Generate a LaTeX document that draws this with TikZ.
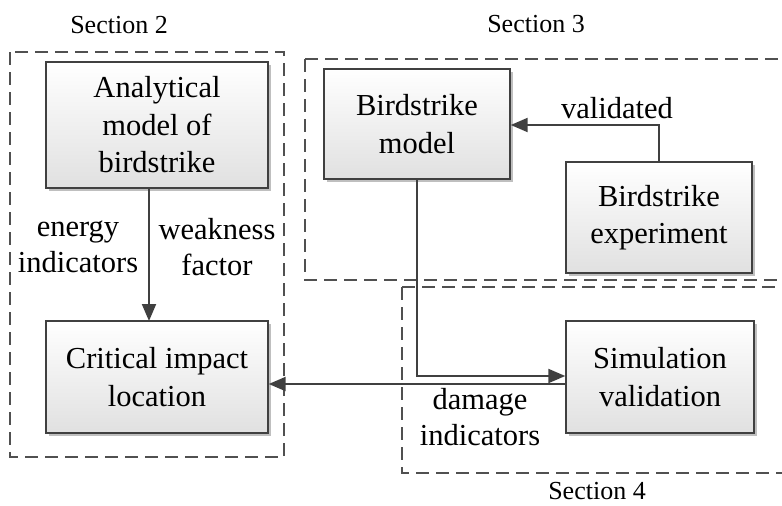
\documentclass[tikz,border=0pt]{standalone}
\usepackage{fontspec}
\setmainfont{Liberation Serif}
\usetikzlibrary{arrows.meta,shadows}
\definecolor{edge}{HTML}{404040}
\definecolor{dashc}{HTML}{505050}
\tikzset{
  box/.style={draw=edge, line width=1.4pt, top color=white, bottom color=black!12,
    minimum width=#1, inner sep=0pt, align=center,
    font=\fontsize{30.5}{37.5}\selectfont,
    drop shadow={shadow xshift=2.5pt, shadow yshift=-2.5pt, opacity=0.25, fill=black}},
  sect/.style={draw=dashc, line width=1.3pt, dash pattern=on 13pt off 7pt},
  conn/.style={draw=edge, line width=2pt, -{Triangle[length=17pt,width=14pt]}},
  lbl/.style={align=center, inner sep=0pt, font=\fontsize{30.5}{36}\selectfont},
  slbl/.style={inner sep=0pt, font=\fontsize{26}{30}\selectfont},
}
\begin{document}
\begin{tikzpicture}[x=1pt,y=-1pt]
\useasboundingbox (0,0) rectangle (782,506);
% dashed section frames
\draw[sect] (10,52) rectangle (284,457);
\draw[sect] (305,59) -- (790,59);
\draw[sect] (305,59) -- (305,280) -- (790,280);
\draw[sect] (402,287) -- (790,287);
\draw[sect] (402,287) -- (402,473) -- (790,473);
% section labels
\node[slbl] (s2) at (119,25) {Section 2};
\node[slbl] (s3) at (536,24) {Section 3};
\node[slbl] (s4) at (597,491) {Section 4};
% boxes
\node[box=222pt, minimum height=126pt] (anal) at (157,125) {Analytical\\model of\\birdstrike};
\node[box=222pt, minimum height=112pt] (crit) at (157,377) {Critical impact\\location};
\node[box=186pt, minimum height=110pt] (bm) at (417,124) {Birdstrike\\model};
\node[box=186pt, minimum height=111pt] (bexp) at (659,217.5) {Birdstrike\\experiment};
\node[box=188pt, minimum height=112pt] (sim) at (660,377) {Simulation\\validation};
% connectors
\coordinate (a1) at (149,188);
\coordinate (a2) at (149,321);
\draw[conn] (a1) -- (a2);
\coordinate (v1) at (659,125);
\draw[conn] (bexp.north) -- (v1) -- (v1 -| bm.east);
\coordinate (m1) at (417,376);
\draw[conn] (bm.south) -- (m1) -- (m1 -| sim.west);
\coordinate (d1) at (566,384);
\draw[conn] (d1) -- (d1 -| crit.east);
% labels
\node[lbl] (le) at (78,247) {energy\\indicators};
\node[lbl] (lw) at (217,247) {weakness\\factor};
\node[lbl] (lv) at (617,108) {validated};
\node[lbl] (ld) at (480,417) {damage\\indicators};
\end{tikzpicture}
\end{document}
